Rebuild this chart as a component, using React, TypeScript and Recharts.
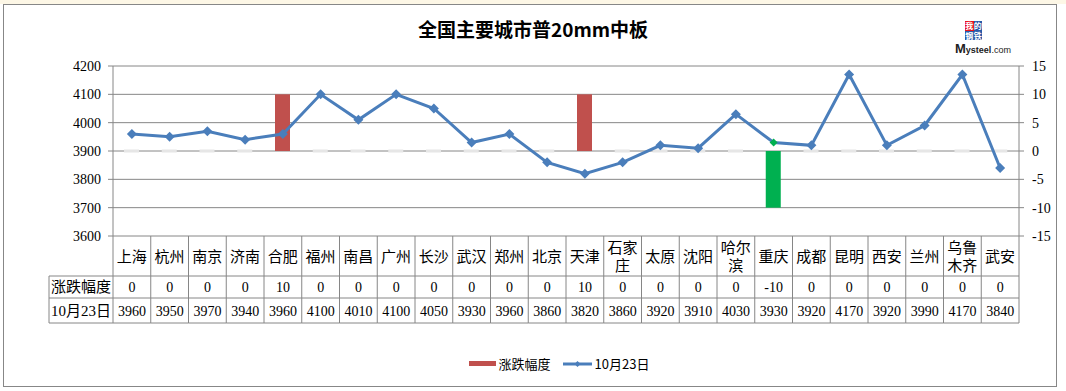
import React from 'react';
import {
  ComposedChart,
  Bar,
  Line,
  XAxis,
  YAxis,
  CartesianGrid,
  Legend,
} from 'recharts';

const cities = [
  '上海', '杭州', '南京', '济南', '合肥', '福州', '南昌', '广州', '长沙', '武汉', '郑州', '北京',
  '天津', '石家\n庄', '太原', '沈阳', '哈尔\n滨', '重庆', '成都', '昆明', '西安', '兰州', '乌鲁\n木齐', '武安',
];
const changes = [0, 0, 0, 0, 10, 0, 0, 0, 0, 0, 0, 0, 10, 0, 0, 0, 0, -10, 0, 0, 0, 0, 0, 0];
const prices = [
  3960, 3950, 3970, 3940, 3960, 4100, 4010, 4100, 4050, 3930, 3960, 3860,
  3820, 3860, 3920, 3910, 4030, 3930, 3920, 4170, 3920, 3990, 4170, 3840,
];
const leftTicks = [3600, 3700, 3800, 3900, 4000, 4100, 4200];
const rightTicks = [-15, -10, -5, 0, 5, 10, 15];
const changeName = '涨跌幅度';
const priceName = '10月23日';

const data = cities.map((city, i) => ({ city, change: changes[i], price: prices[i] }));

const W = 1066;
const H = 391;
const LEFT_W = 113;
const RIGHT_W = 47;
const CELL = (W - LEFT_W - RIGHT_W) / cities.length;
const HEADER_W = 64;
const GRID = '#868686';
const FONT = '"Liberation Serif", "Noto Sans CJK SC", serif';

const TableTick = (props: any) => {
  const { x, y, payload } = props;
  const i = payload.index;
  const row = data[i];
  const l = x - CELL / 2;
  const r = x + CELL / 2;
  const lines = String(payload.value).split('\n');
  return (
    <g fontFamily={FONT} fontSize={14} fill="#000">
      {i === 0 && (
        <g>
          <line x1={l} x2={l} y1={y} y2={y + 87} stroke={GRID} />
          <line x1={l - HEADER_W} x2={l - HEADER_W} y1={y + 40} y2={y + 87} stroke={GRID} />
          {[40, 62, 87].map((d) => (
            <line key={d} x1={l - HEADER_W} x2={l} y1={y + d} y2={y + d} stroke={GRID} />
          ))}
          <text x={l - HEADER_W / 2} y={y + 56} textAnchor="middle" fontSize={15}>{changeName}</text>
          <text x={l - HEADER_W / 2} y={y + 80} textAnchor="middle" fontSize={15}>{priceName}</text>
        </g>
      )}
      <line x1={r} x2={r} y1={y} y2={y + 87} stroke={GRID} />
      {[40, 62, 87].map((d) => (
        <line key={d} x1={l} x2={r} y1={y + d} y2={y + d} stroke={GRID} />
      ))}
      {lines.map((t, k) => (
        <text
          key={k}
          x={x}
          y={lines.length === 1 ? y + 26 : y + 17 + k * 18}
          textAnchor="middle"
          fontSize={15}
        >
          {t}
        </text>
      ))}
      <text x={x} y={y + 56} textAnchor="middle">{row.change}</text>
      <text x={x} y={y + 80} textAnchor="middle">{row.price}</text>
    </g>
  );
};

const BarShape = (props: any) => {
  const { x, y, width, height, payload } = props;
  if (payload.change === 0) {
    return <rect x={x} y={y - 1.5} width={width} height={3} fill="#e6e6e6" />;
  }
  const fill = payload.change > 0 ? '#c0504d' : '#00b050';
  return (
    <rect
      x={x}
      y={Math.min(y, y + height)}
      width={width}
      height={Math.abs(height)}
      fill={fill}
    />
  );
};

const Diamond = (props: any) => {
  const { cx, cy, payload, index } = props;
  if (cx == null || cy == null) return null;
  const neg = payload.change < 0;
  const s = neg ? 4 : 5;
  return (
    <path
      key={`d-${index}`}
      d={`M${cx},${cy - s} L${cx + s},${cy} L${cx},${cy + s} L${cx - s},${cy} Z`}
      fill={neg ? '#00b050' : '#4a7ebb'}
    />
  );
};

const LegendContent = () => (
  <div
    style={{
      display: 'flex',
      justifyContent: 'center',
      alignItems: 'center',
      fontFamily: '"Noto Sans CJK SC", sans-serif',
      fontSize: 13,
      color: '#000',
      paddingLeft: 52,
    }}
  >
    <span style={{ display: 'inline-block', width: 27, height: 5, background: '#c0504d', marginRight: 3 }} />
    <span style={{ marginRight: 12 }}>{changeName}</span>
    <svg width={29} height={10} style={{ marginRight: 3 }}>
      <line x1={0} x2={29} y1={5} y2={5} stroke="#4a7ebb" strokeWidth={3} />
      <path d="M14.5,2 L17.5,5 L14.5,8 L11.5,5 Z" fill="#4a7ebb" />
    </svg>
    <span>{priceName}</span>
  </div>
);

export default function App() {
  return (
    <div style={{ position: 'absolute', left: 0, top: 0, width: W, height: H, background: '#fff' }}>
      <div style={{ position: 'absolute', left: 0, top: 0, width: W, height: 4, background: '#fdf7e6' }} />
      <div
        style={{
          position: 'absolute',
          left: 3,
          top: 4,
          width: 1054,
          height: 383,
          border: '1px solid #878787',
          boxSizing: 'border-box',
          borderWidth: 1.5,
        }}
      />
      <div
        style={{
          position: 'absolute',
          left: 0,
          width: W,
          top: 15,
          textAlign: 'center',
          paddingLeft: 0,
          fontFamily: '"Noto Sans CJK SC", sans-serif',
          fontWeight: 'bold',
          fontSize: 19,
          color: '#000',
        }}
      >
        全国主要城市普20mm中板
      </div>
      <div style={{ position: 'absolute', left: 965, top: 21, width: 17, display: 'flex', flexWrap: 'wrap' }}>
        {['我', '的', '钢', '铁'].map((c, k) => (
          <span
            key={c}
            style={{
              width: 8.5,
              height: 9.5,
              background: k === 0 ? '#e8141c' : '#2859a8',
              color: '#fff',
              fontSize: 8,
              lineHeight: '9.5px',
              textAlign: 'center',
              fontFamily: '"Noto Sans CJK SC", sans-serif',
              fontWeight: 'bold',
            }}
          >
            {c}
          </span>
        ))}
      </div>
      <div
        style={{
          position: 'absolute',
          left: 955,
          top: 41,
          fontFamily: 'Arial, "Liberation Sans", sans-serif',
          fontSize: 9,
          color: '#222',
          whiteSpace: 'nowrap',
        }}
      >
        <span style={{ fontSize: 13, fontWeight: 'bold' }}>M</span>
        <span style={{ fontWeight: 'bold' }}>ysteel</span>.com
      </div>
      <div style={{ position: 'absolute', left: 0, top: 0 }}>
        <ComposedChart
          width={W}
          height={H}
          data={data}
          margin={{ top: 66, right: 0, bottom: 48, left: 0 }}
        >
          <CartesianGrid vertical={false} stroke={GRID} yAxisId="left" />
          <XAxis
            dataKey="city"
            height={87}
            interval={0}
            axisLine={false}
            tickLine={false}
            tickSize={0}
            tickMargin={0}
            tick={<TableTick />}
          />
          <YAxis
            yAxisId="left"
            orientation="left"
            width={LEFT_W}
            domain={[3600, 4200]}
            ticks={leftTicks}
            interval={0}
            stroke={GRID}
            tickSize={5}
            tickMargin={7}
            tick={{ fill: '#000', fontSize: 14, fontFamily: FONT }}
          />
          <YAxis
            yAxisId="right"
            orientation="right"
            width={RIGHT_W}
            domain={[-15, 15]}
            ticks={rightTicks}
            interval={0}
            stroke={GRID}
            tickSize={5}
            tickMargin={8}
            tick={{ fill: '#000', fontSize: 14, fontFamily: FONT }}
          />
          <Legend
            verticalAlign="bottom"
            height={20}
            wrapperStyle={{ top: 354, left: 0, width: W }}
            content={<LegendContent />}
          />
          <Bar
            yAxisId="right"
            dataKey="change"
            name={changeName}
            barSize={15}
            shape={<BarShape />}
            isAnimationActive={false}
          />
          <Line
            yAxisId="left"
            dataKey="price"
            name={priceName}
            stroke="#4a7ebb"
            strokeWidth={3}
            dot={<Diamond />}
            activeDot={false}
            isAnimationActive={false}
          />
        </ComposedChart>
      </div>
    </div>
  );
}
